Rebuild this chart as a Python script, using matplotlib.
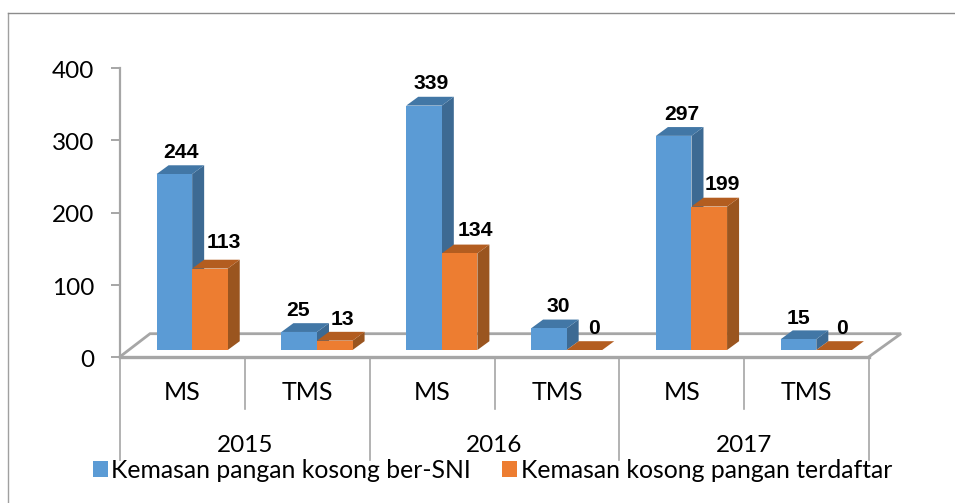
import matplotlib
matplotlib.use("Agg")
import matplotlib.pyplot as plt
from matplotlib.patches import Polygon, Rectangle
from matplotlib.lines import Line2D
from matplotlib.transforms import ScaledTranslation

years = ["2015", "2016", "2017"]
categories = ["MS", "TMS", "MS", "TMS", "MS", "TMS"]
series_names = ["Kemasan pangan kosong ber-SNI", "Kemasan kosong pangan terdaftar"]
sni_values = [244, 25, 339, 30, 297, 15]
registered_values = [113, 13, 134, 0, 199, 0]
yticks = [0, 100, 200, 300, 400]

# label nudges in pixels (x from bar centre, y above bar front top)
sni_nudge = [(7, 22), (-1, 21), (7.5, 22), (9, 21.5), (8, 21), (0, 21)]
reg_nudge = [(13.5, 26), (7.5, 21.5), (16, 22.5), (10, 21), (13.5, 21.7), (8, 21)]

W, H = 955, 503
fig = plt.figure(figsize=(W / 100, H / 100), dpi=100, facecolor="white")
L, R, T, B = 120.0, 869, 68.3, 356.7
ax = fig.add_axes([L / W, 1 - B / H, (R - L) / W, (B - T) / H])
ax.set_xlim(0, 6)
ax.set_ylim(0, 400)
ax.patch.set_alpha(0)

px = 6 / (R - L)        # x data units per pixel
py = 400 / (B - T)      # y data units per pixel
GRAY = "#A6A6A6"
BW = 0.285
X0 = 0.293
FLOOR = 6.7 * py
DX, DY = 12 * px, 8.8 * py

# frame of the picture: left and top edges only
fig.add_artist(Line2D([7.5 / W, 7.5 / W], [0, 1 - 12.7 / H], transform=fig.transFigure, color="#A0A0A0", lw=1.0))
fig.add_artist(Line2D([7.5 / W, 1], [1 - 12.7 / H, 1 - 12.7 / H], transform=fig.transFigure, color="#8C8C8C", lw=1.0))

# axes
for s in ["top", "right", "bottom"]:
    ax.spines[s].set_visible(False)
ax.spines["left"].set_color(GRAY)
ax.spines["left"].set_linewidth(1.6)
ax.set_xticks([])
ax.set_yticks(yticks)
ax.tick_params(axis="y", length=6.5, width=1.4, color=GRAY, pad=12, labelsize=17.5, labelcolor="black")
shift = ScaledTranslation(0, -1.5 / 100, fig.dpi_scale_trans)
for t in ax.get_yticklabels():
    t.set_fontfamily("Lato")
    t.set_transform(t.get_transform() + shift)

# floor
fu = 23 * py
ax.plot([0, 30 * px, 6 + 32 * px, 6], [0, fu, fu, 0], color=GRAY, lw=2.0, clip_on=False, solid_joinstyle="miter", zorder=1)
ax.plot([0, 6], [0, 0], color=GRAY, lw=2.4, clip_on=False, zorder=2)

# category dividers
drop1 = -52 * py
drop2 = -103 * py
for i in range(7):
    ax.plot([i, i], [0, drop2 if i % 2 == 0 else drop1], color=GRAY, lw=1.2, clip_on=False, zorder=1)


def bar3d(x, v, c_front, c_side, c_top, z):
    b, t = FLOOR, v + FLOOR
    ax.add_patch(Polygon([(x + BW, b), (x + BW + DX, b + DY), (x + BW + DX, t + DY), (x + BW, t)],
                         fc=c_side, ec="none", clip_on=False, zorder=z))
    ax.add_patch(Polygon([(x, t), (x + DX, t + DY), (x + BW + DX, t + DY), (x + BW, t)],
                         fc=c_top, ec="none", clip_on=False, zorder=z))
    ax.add_patch(Rectangle((x, b), BW, v, fc=c_front, ec="none", clip_on=False, zorder=z + 0.1))


def value_label(x, v, nudge):
    ax.text(x + nudge[0] * px, v + FLOOR + nudge[1] * py, f"{v}", ha="center", va="center", fontsize=15.2,
            fontweight="bold", family="Liberation Sans", color="black", clip_on=False, zorder=20)


for i, (a, b) in enumerate(zip(sni_values, registered_values)):
    bar3d(i + X0, a, "#5B9BD5", "#3D6A93", "#4277A6", 3 + i)
    bar3d(i + X0 + BW, b, "#ED7D31", "#9A551F", "#B35D20", 3.5 + i)
    value_label(i + X0 + BW / 2, a, sni_nudge[i])
    value_label(i + X0 + 1.5 * BW, b, reg_nudge[i])

# category labels
for i, c in enumerate(categories):
    ax.text(i + 0.5, -36 * py, c, ha="center", va="center", fontsize=18, family="Lato", color="black", clip_on=False)
for j, y in enumerate(years):
    ax.text(2 * j + 1, -88.5 * py, y, ha="center", va="center", fontsize=17.5, family="Lato", color="black", clip_on=False)

# legend
handles = [Rectangle((0, 0), 1, 1, fc="#5B9BD5"), Rectangle((0, 0), 1, 1, fc="#ED7D31")]
fig.legend(handles, series_names, loc="center", bbox_to_anchor=(492.5 / W, 1 - 470.5 / H), ncol=2, frameon=False,
           prop={"family": "Lato", "size": 17.85}, handlelength=0.6, handleheight=0.6, handletextpad=0.15,
           columnspacing=1.25, borderpad=0, borderaxespad=0)

fig.savefig("out.png", dpi=100, facecolor="white")
